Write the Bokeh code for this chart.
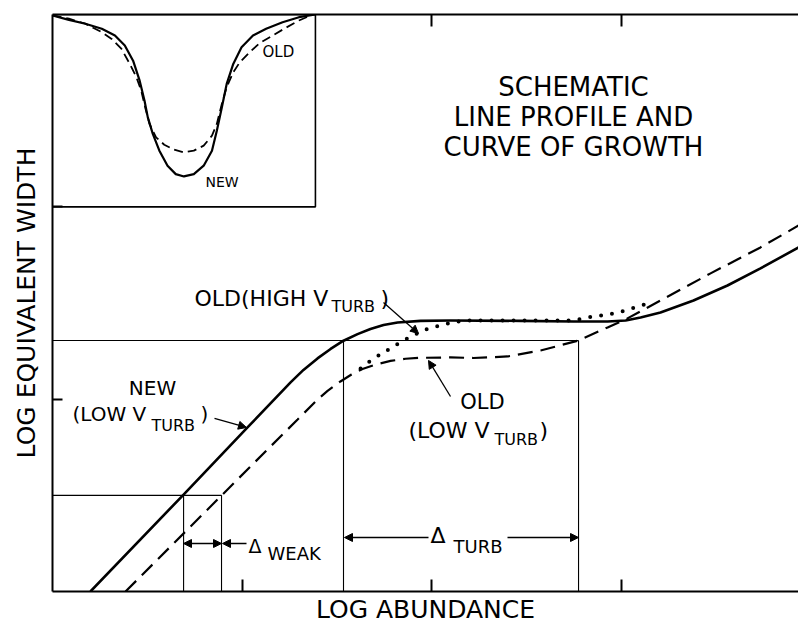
import math
from bokeh.plotting import figure
from bokeh.models import Range1d, LinearAxis, FixedTicker, Label, Arrow, NormalHead
from bokeh.embed import file_html
from bokeh.resources import INLINE

# ---------------- data (read from the schematic) ----------------
# NEW curve of growth (low v_turb), solid
new_x = [0.200, 0.691, 1.028, 1.255, 1.323, 1.397, 1.466, 1.534, 1.608, 1.676,
         1.745, 1.819, 1.940, 2.098, 2.467, 2.747, 2.926, 3.021, 3.100, 3.205,
         3.379, 3.558, 3.732, 3.933]
new_y = [0.000, 0.504, 0.853, 1.087, 1.152, 1.212, 1.261, 1.304, 1.338, 1.365,
         1.386, 1.399, 1.407, 1.409, 1.407, 1.404, 1.404, 1.409, 1.425, 1.451,
         1.513, 1.591, 1.680, 1.789]

# OLD curve of growth (low v_turb), dashed
old_low_x = [0.385, 0.891, 1.133, 1.292, 1.397, 1.450, 1.518, 1.576, 1.634, 1.703,
             1.782, 1.861, 1.940, 2.098, 2.219, 2.399, 2.573, 2.773, 2.926, 3.031,
             3.205, 3.469, 3.732, 3.933]
old_low_y = [0.000, 0.499, 0.738, 0.894, 0.998, 1.043, 1.092, 1.128, 1.157, 1.180,
             1.199, 1.210, 1.215, 1.217, 1.214, 1.222, 1.253, 1.305, 1.373, 1.420,
             1.513, 1.654, 1.789, 1.903]

# OLD curve of growth (high v_turb), dotted
old_high_x = [1.624, 1.671, 1.719, 1.771, 1.824, 1.871, 1.924, 1.982, 2.045, 2.114,
              2.204, 2.747, 2.820, 2.878, 2.931, 2.984, 3.047, 3.100, 3.152]
old_high_y = [1.160, 1.196, 1.227, 1.258, 1.290, 1.316, 1.342, 1.368, 1.383, 1.402,
              1.409, 1.409, 1.425, 1.433, 1.441, 1.451, 1.469, 1.487, 1.498]

# Delta_weak and Delta_turb construction
weak_level = 0.50
new_weak_x = 0.691
old_weak_x = 0.891
turb_level = 1.305
new_turb_x = 1.534
old_turb_x = 2.773

# inset: schematic line profiles (offset from line centre as fraction of half width,
# depth as fraction of inset height)
prof_new_u = [-1.0, -0.875, -0.75, -0.625, -0.525, -0.45, -0.387, -0.337, -0.30, -0.275,
              -0.237, -0.187, -0.125, -0.0625, 0.0, 0.075, 0.15, 0.213, 0.25, 0.288,
              0.325, 0.375, 0.438, 0.525, 0.625, 0.75, 0.875, 1.0]
prof_new_d = [0.005, 0.028, 0.048, 0.074, 0.109, 0.161, 0.240, 0.344, 0.448, 0.535,
              0.621, 0.708, 0.786, 0.830, 0.842, 0.830, 0.786, 0.708, 0.604, 0.483,
              0.361, 0.257, 0.170, 0.109, 0.074, 0.040, 0.014, 0.0]
prof_old_u = [-1.0, -0.875, -0.75, -0.625, -0.55, -0.475, -0.412, -0.362, -0.325, -0.295,
              -0.262, -0.212, -0.15, -0.075, 0.0, 0.075, 0.15, 0.213, 0.25, 0.288,
              0.325, 0.375, 0.425, 0.5, 0.575, 0.675, 0.775, 0.875, 0.963]
prof_old_d = [0.005, 0.022, 0.048, 0.092, 0.127, 0.179, 0.257, 0.326, 0.396, 0.483,
              0.569, 0.639, 0.677, 0.703, 0.717, 0.708, 0.682, 0.630, 0.569, 0.465,
              0.378, 0.300, 0.248, 0.196, 0.149, 0.109, 0.069, 0.031, 0.005]

inset_left, inset_right = 0.0, 1.386
inset_bottom, inset_top = 2.0, 3.0

x_ticks_bottom = [1, 2, 3]
x_ticks_top = [2, 3]
y_ticks_left = [1, 2]

x_label = "LOG ABUNDANCE"
y_label = "LOG EQUIVALENT WIDTH"
title_lines = ["SCHEMATIC", "LINE PROFILE AND", "CURVE OF GROWTH"]

FONT = "DejaVu Sans"

# ---------------- figure ----------------
p = figure(width=798, height=626, x_range=Range1d(0, 3.9325), y_range=Range1d(0, 3),
           x_axis_type=None, y_axis_type=None, output_backend="svg",
           toolbar_location=None, min_border_left=52, min_border_right=0,
           min_border_top=14, min_border_bottom=35)
p.outline_line_color = None
p.background_fill_color = "white"
p.border_fill_color = "white"


def mk_axis(ticks, tin, label=None, standoff=0):
    ax = LinearAxis(ticker=FixedTicker(ticks=ticks, minor_ticks=[]),
                    major_label_overrides={t: "" for t in ticks},
                    major_tick_in=tin, major_tick_out=0,
                    minor_tick_in=0, minor_tick_out=0,
                    axis_line_width=2, axis_line_color="black",
                    major_tick_line_width=2, major_tick_line_color="black",
                    major_label_text_font_size="1px", major_label_standoff=0)
    if label:
        ax.axis_label = label
        ax.axis_label_text_font = FONT
        ax.axis_label_text_font_size = "25px"
        ax.axis_label_text_font_style = "normal"
        ax.axis_label_text_color = "black"
        ax.axis_label_standoff = standoff
    return ax


p.add_layout(mk_axis(x_ticks_bottom, 12, x_label, 3), "below")
p.add_layout(mk_axis(x_ticks_top, 12), "above")
p.add_layout(mk_axis(y_ticks_left, 10, y_label, 12), "left")

# construction boxes (thin)
p.multi_line(xs=[[0, old_weak_x], [new_weak_x, new_weak_x], [old_weak_x, old_weak_x],
                 [0, old_turb_x], [new_turb_x, new_turb_x], [old_turb_x, old_turb_x]],
             ys=[[weak_level, weak_level], [0, weak_level], [0, weak_level],
                 [turb_level, turb_level], [0, turb_level], [0, turb_level]],
             line_color="black", line_width=1.1)

# curves of growth
p.line(new_x, new_y, line_color="black", line_width=2.6, line_join="round")
p.line(old_low_x, old_low_y, line_color="black", line_width=2.2, line_dash="15 8")
p.line(old_high_x, old_high_y, line_color="black", line_width=4, line_dash="0 11",
       line_cap="round")

# inset box and profiles
p.line([inset_left, inset_right, inset_right, inset_left],
       [inset_top, inset_top, inset_bottom, inset_bottom],
       line_color="black", line_width=1.6)
cx = (inset_left + inset_right) / 2
hw = (inset_right - inset_left) / 2
hh = inset_top - inset_bottom
p.line([cx + u * hw for u in prof_new_u], [inset_top - d * hh for d in prof_new_d],
       line_color="black", line_width=2.2, line_join="round")
p.line([cx + u * hw for u in prof_old_u], [inset_top - d * hh for d in prof_old_d],
       line_color="black", line_width=1.8, line_dash="9 5")


# ---------------- annotations ----------------
def X(px):
    return (px - 52) / 189.7


def Y(py):
    return (591 - py) / 192.3


def lab(text, px, py, size, align="left", angle=0.0, baseline="alphabetic"):
    p.add_layout(Label(x=X(px), y=Y(py), text=text, text_font=FONT,
                       text_font_size=f"{size}px", text_align=align,
                       text_baseline=baseline, angle=angle, text_color="black"))


def arrow(x0, y0, x1, y1, both=False):
    head = dict(size=8, fill_color="black", line_color="black", line_width=1)
    kw = dict(end=NormalHead(**head), x_start=X(x0), y_start=Y(y0),
              x_end=X(x1), y_end=Y(y1), line_width=1.3, line_color="black")
    if both:
        kw["start"] = NormalHead(**head)
    p.add_layout(Arrow(**kw))


for i, t in enumerate(title_lines):
    lab(t, 573, 87 + 30 * i, 26, align="center")

lab("OLD(HIGH V", 194, 298, 22)
lab("TURB", 331, 306, 16)
lab(")", 380, 298, 22)

lab("NEW", 152, 388, 20, align="center")
lab("(LOW V", 72, 414, 20)
lab("TURB", 151, 425, 16)
lab(")", 200, 414, 20)

lab("OLD", 482, 402, 21, align="center")
lab("(LOW V", 408, 430, 22)
lab("TURB", 494, 439, 16)
lab(")", 539, 430, 22)

lab("OLD", 262, 52, 15)
lab("NEW", 205, 182, 14)

lab("\u0394", 248, 546, 19)
lab("WEAK", 267, 553, 18)
lab("\u0394", 430, 535, 22)
lab("TURB", 453, 546, 18)

arrow(183, 543, 221, 543, both=True)
arrow(246, 543, 222, 543)
arrow(428, 537, 344, 537)
arrow(507, 537, 578, 537)
arrow(383, 302, 418, 333)
arrow(214, 418, 246, 427)
arrow(450, 396, 428, 360)

open("out.html", "w").write(file_html(p, INLINE))
